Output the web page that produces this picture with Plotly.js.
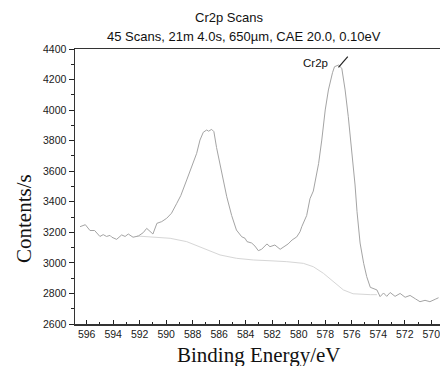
<!DOCTYPE html>
<html>
<head>
<meta charset="utf-8">
<script src="https://cdn.plot.ly/plotly-3.0.1.min.js"></script>
<style>
  html, body { margin: 0; padding: 0; background: #fff; }
  #chart { width: 440px; height: 366px; }
</style>
</head>
<body>
<div id="chart"></div>
<script>
// Cr 2p XPS scan: measured counts and the fitted background (Shirley type)
const bindingEnergy = [
  596.5, 596.1, 595.75, 595.4, 595.0, 594.75, 594.5, 594.24, 594.1, 593.74,
  593.36, 593.1, 592.86, 592.5, 592.1, 591.73, 591.47, 591.2, 591.0, 590.7,
  590.34, 589.96, 589.6, 589.2, 588.9, 588.45, 588.1, 587.7, 587.45, 587.2,
  586.94, 586.8, 586.57, 586.4, 586.2, 585.94, 585.7, 585.43, 585.06, 584.7,
  584.3, 584.05, 583.9, 583.55, 583.3, 583.05, 582.8, 582.4, 582.17, 581.8,
  581.4, 581.03, 580.8, 580.5, 580.15, 579.9, 579.77, 579.4, 579.15, 578.9,
  578.64, 578.5, 578.26, 578.0, 577.76, 577.6, 577.45, 577.3, 577.0, 576.75,
  576.5, 576.26, 576.0, 575.75, 575.6, 575.37, 575.1, 574.87, 574.6, 574.4,
  574.1, 573.86, 573.6, 573.36, 573.1, 572.73, 572.35, 571.97, 571.6, 571.2,
  570.85, 570.47, 570.1, 569.7, 569.45
];
const counts = [
  3237, 3250, 3212, 3212, 3173, 3185, 3173, 3180, 3168, 3154,
  3183, 3173, 3189, 3168, 3176, 3198, 3226, 3204, 3189, 3259,
  3270, 3292, 3325, 3390, 3440, 3543, 3619, 3717, 3804, 3855,
  3870, 3862, 3874, 3859, 3755, 3640, 3530, 3433, 3310, 3215,
  3171, 3161, 3139, 3130, 3110, 3080, 3089, 3124, 3106, 3117,
  3089, 3111, 3124, 3150, 3170, 3204, 3237, 3310, 3420, 3470,
  3586, 3650, 3804, 4001, 4132, 4200, 4245, 4284, 4295, 4274,
  4132, 3957, 3739, 3510, 3335, 3130, 2997, 2910, 2840, 2833,
  2823, 2779, 2803, 2781, 2806, 2781, 2800, 2775, 2787, 2765,
  2746, 2755, 2746, 2762, 2772
];

const bgEnergy = [
  592.2, 590.7, 589.7, 588.45, 587.2, 585.94, 584.7, 583.4, 582.17, 580.9,
  579.65, 578.9, 578.14, 577.4, 576.63, 575.9, 575.37, 574.6, 574.1
];
const bgCounts = [
  3176, 3168, 3161, 3139, 3096, 3052, 3030, 3019, 3014, 3008,
  2997, 2975, 2932, 2877, 2823, 2798, 2794, 2792, 2792
];

const xTickVals = [596, 594, 592, 590, 588, 586, 584, 582, 580, 578, 576, 574, 572, 570];
const yTickVals = [2600, 2800, 3000, 3200, 3400, 3600, 3800, 4000, 4200, 4400];

// Peak label and its pointer
const peakLabel = { text: 'Cr2p', x: 578.7, y: 4308 };
const pointer = { x0: 577.0, y0: 4280, x1: 576.3, y1: 4350 };

const traces = [
  {
    x: bgEnergy, y: bgCounts, type: 'scatter', mode: 'lines',
    line: { color: '#d6d6d6', width: 1 }, hoverinfo: 'skip'
  },
  {
    x: bindingEnergy, y: counts, type: 'scatter', mode: 'lines',
    line: { color: '#a4a4a4', width: 1 }
  }
];

const sans = 'Arial, "Liberation Sans", sans-serif';
const serif = '"Liberation Serif", "Times New Roman", serif';

const layout = {
  width: 440, height: 366,
  margin: { l: 75, r: 0, t: 49, b: 42 },
  paper_bgcolor: '#ffffff', plot_bgcolor: '#ffffff',
  showlegend: false,
  xaxis: {
    range: [596.88, 569.34],
    tickmode: 'array', tickvals: xTickVals,
    ticks: 'inside', ticklen: 4, tickwidth: 1, tickcolor: '#222',
    minor: { dtick: 1, ticks: 'inside', ticklen: 2, tickwidth: 1, tickcolor: '#222' },
    showgrid: false, zeroline: false,
    showline: true, linecolor: '#333', linewidth: 1.5, mirror: true,
    ticklabeloverflow: 'allow',
    tickfont: { family: '"Liberation Sans Narrow", "Arial Narrow", Arial, sans-serif', size: 10.5, color: '#1a1a1a' },
    fixedrange: true
  },
  yaxis: {
    range: [2600, 4400],
    tickmode: 'array', tickvals: yTickVals,
    ticks: 'outside', ticklen: 5, tickwidth: 1, tickcolor: '#222',
    minor: { dtick: 100, ticks: 'outside', ticklen: 3, tickwidth: 1, tickcolor: '#222' },
    showgrid: false, zeroline: false,
    showline: true, linecolor: '#333', linewidth: 1.5, mirror: false,
    tickfont: { family: sans, size: 10.5, color: '#1a1a1a' },
    fixedrange: true
  },
  shapes: [
    {
      type: 'line', xref: 'x', yref: 'y',
      x0: pointer.x0, y0: pointer.y0, x1: pointer.x1, y1: pointer.y1,
      line: { color: '#222', width: 1.2 }
    }
  ],
  annotations: [
    {
      text: 'Cr2p Scans', xref: 'paper', yref: 'paper', x: 0.422, y: 1.113,
      showarrow: false, xanchor: 'center', yanchor: 'middle',
      font: { family: sans, size: 13, color: '#111' }
    },
    {
      text: '45 Scans, 21m 4.0s, 650µm, CAE 20.0, 0.10eV', xref: 'paper', yref: 'paper', x: 0.463, y: 1.044,
      showarrow: false, xanchor: 'center', yanchor: 'middle',
      font: { family: sans, size: 13, color: '#111' }
    },
    {
      text: peakLabel.text, xref: 'x', yref: 'y', x: peakLabel.x, y: peakLabel.y,
      showarrow: false, xanchor: 'center', yanchor: 'middle',
      font: { family: sans, size: 11.5, color: '#111' }
    },
    {
      text: 'Binding Energy/eV', xref: 'paper', yref: 'paper', x: 0.504, y: -0.113,
      showarrow: false, xanchor: 'center', yanchor: 'middle',
      font: { family: serif, size: 21, color: '#111' }
    },
    {
      text: 'Contents/s', xref: 'paper', yref: 'paper', x: -0.14, y: 0.385,
      showarrow: false, xanchor: 'center', yanchor: 'middle', textangle: -90,
      font: { family: serif, size: 21, color: '#111' }
    }
  ]
};

Plotly.newPlot('chart', traces, layout, { staticPlot: true, displayModeBar: false });
</script>
</body>
</html>
